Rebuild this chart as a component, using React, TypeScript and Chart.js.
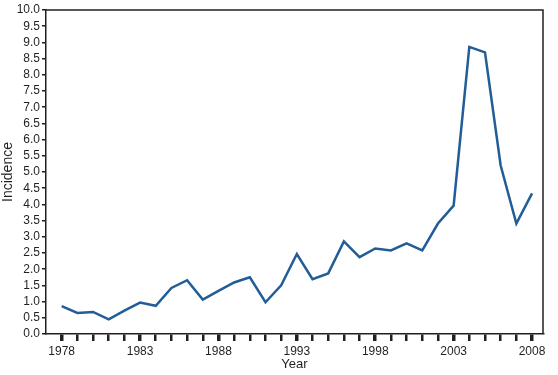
import React, { useEffect, useRef } from "react";
import { Chart, registerables } from "chart.js";

Chart.register(...registerables);

const years: number[] = [
  1978, 1979, 1980, 1981, 1982, 1983, 1984, 1985, 1986, 1987, 1988, 1989, 1990,
  1991, 1992, 1993, 1994, 1995, 1996, 1997, 1998, 1999, 2000, 2001, 2002, 2003,
  2004, 2005, 2006, 2007, 2008,
];
const incidence: number[] = [
  0.86, 0.65, 0.68, 0.45, 0.72, 0.97, 0.87, 1.42, 1.66, 1.06, 1.33, 1.59, 1.75,
  0.98, 1.5, 2.47, 1.69, 1.87, 2.86, 2.37, 2.64, 2.58, 2.8, 2.58, 3.41, 3.96,
  8.86, 8.69, 5.2, 3.41, 4.34,
];
const labeledYears: number[] = [1978, 1983, 1988, 1993, 1998, 2003, 2008];

const TEXT = "#231f20";
const LINE = "#225d97";
const FONT = "'Liberation Sans', Arial, sans-serif";

const boxPlugin = {
  id: "box",
  afterDraw(chart: any) {
    const { ctx, chartArea } = chart;
    ctx.save();
    ctx.strokeStyle = TEXT;
    ctx.lineWidth = 1.5;
    ctx.beginPath();
    ctx.moveTo(chartArea.left, chartArea.top);
    ctx.lineTo(chartArea.right, chartArea.top);
    ctx.lineTo(chartArea.right, chartArea.bottom);
    ctx.stroke();
    ctx.restore();
  },
};

export default function App() {
  const ref = useRef<HTMLCanvasElement>(null);
  useEffect(() => {
    if (!ref.current) return;
    const chart = new Chart(ref.current, {
      type: "line",
      data: {
        datasets: [
          {
            data: years.map((y, i) => ({ x: y, y: incidence[i] })),
            borderColor: LINE,
            borderWidth: 2.5,
            pointRadius: 0,
            tension: 0,
            fill: false,
          },
        ],
      },
      options: {
        animation: false,
        responsive: false,
        maintainAspectRatio: false,
        layout: { padding: { top: 10, right: 15, left: 0, bottom: 0 } },
        plugins: { legend: { display: false }, tooltip: { enabled: false } },
        scales: {
          x: {
            type: "linear",
            min: 1977,
            max: 2008.7,
            afterBuildTicks: (scale: any) => {
              scale.ticks = years.map((v) => ({ value: v }));
            },
            afterFit: (scale: any) => {
              scale.height = 41;
            },
            ticks: {
              autoSkip: false,
              maxRotation: 0,
              padding: 3,
              color: TEXT,
              font: { family: FONT, size: 12 },
              callback: (v: any) => (labeledYears.includes(Number(v)) ? String(v) : ""),
            },
            grid: {
              drawOnChartArea: false,
              drawTicks: true,
              tickLength: 7,
              color: TEXT,
              lineWidth: (c: any) =>
                c.tick && labeledYears.includes(c.tick.value) ? 3.5 : 2.5,
            },
            border: { display: true, color: TEXT, width: 1.5 },
            title: {
              display: true,
              text: "Year",
              color: TEXT,
              font: { family: FONT, size: 13 },
              padding: { top: 0, bottom: 3 },
            },
          },
          y: {
            type: "linear",
            min: 0,
            max: 10,
            afterFit: (scale: any) => {
              scale.width = 46;
            },
            ticks: {
              stepSize: 0.5,
              autoSkip: false,
              padding: 2,
              color: TEXT,
              font: { family: FONT, size: 12 },
              callback: (v: any) => Number(v).toFixed(1),
            },
            grid: {
              drawOnChartArea: false,
              drawTicks: true,
              tickLength: 4,
              color: TEXT,
              lineWidth: 1.5,
            },
            border: { display: true, color: TEXT, width: 1.5 },
            title: {
              display: true,
              text: "Incidence",
              color: TEXT,
              font: { family: FONT, size: 14 },
              padding: { top: 0, bottom: 0 },
            },
          },
        },
      },
      plugins: [boxPlugin],
    });
    return () => chart.destroy();
  }, []);
  return (
    <div style={{ position: "fixed", left: 0, top: 0, width: 558, height: 375, background: "#fff" }}>
      <canvas ref={ref} width={558} height={375} style={{ display: "block" }} />
    </div>
  );
}
